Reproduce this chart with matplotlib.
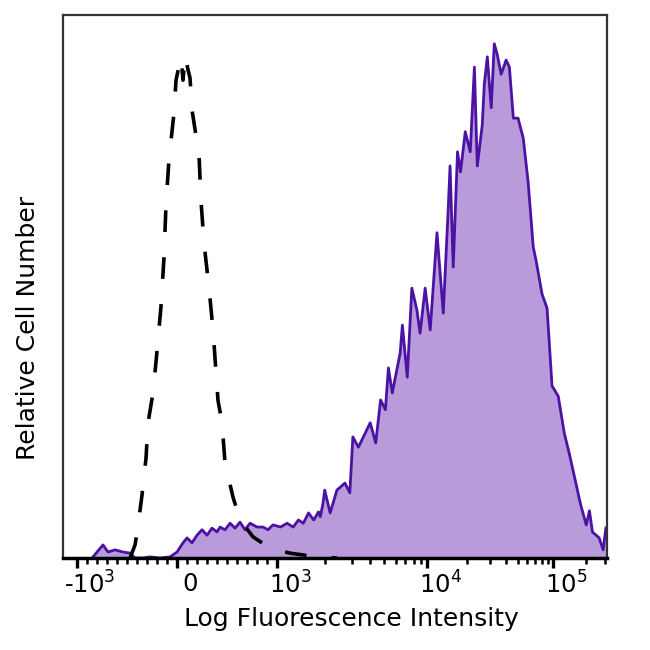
import numpy as np
import matplotlib
matplotlib.use('Agg')
import matplotlib.pyplot as plt
from matplotlib.transforms import ScaledTranslation

# stained sample (filled purple histogram)
stained_x = [-840, -800, -740, -690, -620, -540, -470, -420, -340, -270, -170, -70,
             0, 60, 100, 150, 200, 250, 300, 350, 400, 430, 480, 530, 580, 630, 680,
             730, 800, 860, 910, 960, 1050, 1155, 1260, 1360, 1460, 1575, 1700, 1825,
             1875, 1950, 2000, 2170, 2400, 2710, 2920, 3060, 3330, 4000, 4360, 4710,
             5080, 5330, 5670, 6440, 6670, 7220, 7780, 8450, 8910, 9690, 10550, 11820,
             13150, 14300, 14770, 15600, 16800, 17700, 19240, 21000, 22600, 23800,
             26000, 27000, 28500, 30600, 32350, 34100, 36700, 40250, 42800, 46100,
             50400, 55700, 61250, 67500, 71500, 80300, 88700, 98000, 111200, 125800,
             139700, 158600, 177400, 200000, 214300, 228600, 265200, 289600, 307900]
stained_y = [0.2, 1.1, 2.4, 1.1, 1.5, 1.1, 0.9, 0, 0, 0.2, 0, 0.2,
             1.1, 2.8, 3.7, 2.8, 4.2, 5.2, 4.2, 5.5, 4.8, 5.7, 5.2, 6.4, 5.5, 6.6, 5.2,
             6.4, 5.7, 5.7, 5.2, 6.1, 5.7, 6.4, 5.7, 7.0, 6.4, 8.3, 7.0, 8.5,
             7.6, 10.1, 12.5, 8.3, 12.5, 13.8, 12.0, 22.3, 20.4, 24.9, 21.2, 29.1,
             27.3, 35.0, 30.4, 37.8, 42.9, 33.3, 49.7, 45.7, 41.4, 49.7, 42.0, 59.9,
             45.1, 64.1, 72.2, 53.6, 74.8, 71.1, 78.5, 74.8, 90.4, 72.2,
             79.7, 87.3, 92.3, 82.9, 94.7, 92.8, 89.1, 91.7, 90.4, 81.0,
             81.0, 77.3, 69.1, 57.3, 54.7, 48.6, 46.0, 31.7, 29.8, 23.0,
             19.2, 14.2, 9.8, 6.1, 8.7, 4.8, 3.7, 1.5, 5.5]

# isotype control (dashed histogram)
control_x = [-470, -420, -400, -350, -310, -290, -240, -200, -160, -130, -110, -80,
             -30, -10, 40, 60, 80, 110, 130, 150, 220, 240, 270, 320, 360, 410, 450,
             480, 560, 630, 760, 930, 1200, 1785, 2400]
control_y = [0, 2.4, 4.6, 11.6, 18.4, 24.9, 30.4, 38.1, 46.4, 55.4, 65.2, 73.5,
             82.0, 88.0, 92.3, 88.0, 92.6, 89.9, 88.4, 82.5, 74.2, 65.7, 58.0, 49.7,
             42.0, 29.0, 24.9, 17.5, 11.2, 7.0, 3.9, 1.8, 0.9, 0.2, 0]

major_ticks = [-1e3, 0, 1e3, 1e4, 1e5]
major_labels = ['-10$^3$', '0', '10$^3$', '10$^4$', '10$^5$']

LIN = 1000.0


def biex_forward(x):
    '''linear around zero, compressed log beyond +-1000'''
    x = np.asarray(x, dtype=float)
    ax_ = np.abs(x)
    t = np.log10(np.maximum(ax_, LIN) / LIN)
    return np.where(ax_ <= LIN, x / 10.0, np.sign(x) * (100 + 162 * t - 12 * t ** 2))


def biex_inverse(u):
    u = np.asarray(u, dtype=float)
    au = np.abs(u)
    s = np.maximum(au - 100, 0)
    t = (162 - np.sqrt(np.maximum(162 ** 2 - 48 * s, 0))) / 24
    return np.where(au <= 100, u * 10.0, np.sign(u) * LIN * 10 ** t)


plt.rcParams['font.family'] = ['DejaVu Sans']
plt.rcParams['mathtext.default'] = 'regular'

fig = plt.figure(figsize=(6.5, 6.5), dpi=100)
ax = fig.add_axes([63 / 650, 1 - 558 / 650, 544 / 650, 543 / 650])
ax.set_xscale('function', functions=(biex_forward, biex_inverse))

ax.fill_between(stained_x, stained_y, 0, color='#b99bdb', lw=0, zorder=1)
ax.plot(stained_x, stained_y, color='#4c12a3', lw=2.0, zorder=2)
ax.plot(control_x, control_y, color='black', lw=2.6, dashes=(6, 7), zorder=3)

ax.set_xlim(-1222, 316000)
ax.set_ylim(0, 100)

minor = [v for v in range(-900, 1000, 100) if v != 0]
minor += [m * 10 ** e for e in (3, 4) for m in range(2, 10)] + [2e5, 3e5]
ax.set_xticks(major_ticks)
ax.set_xticklabels(major_labels, fontsize=17.5)
ax.set_xticks(minor, minor=True)
ax.tick_params(axis='x', which='major', length=7, width=2.4, direction='out', pad=3)
ax.tick_params(axis='x', which='minor', length=4, width=1.8, direction='out')
ax.tick_params(axis='y', left=False, labelleft=False)
for lab in ax.get_xticklabels():
    lab.set_transform(lab.get_transform() + ScaledTranslation(0.13, 0, fig.dpi_scale_trans))

for side in ['top', 'left', 'right']:
    ax.spines[side].set_color('#333333')
    ax.spines[side].set_linewidth(1.6)
ax.spines['bottom'].set_linewidth(2.5)

ax.set_xlabel('Log Fluorescence Intensity', fontsize=18)
ax.set_ylabel('Relative Cell Number', fontsize=18)
ax.xaxis.set_label_coords(0.53, -0.09)
ax.yaxis.set_label_coords(-0.064, 0.424)
ax.yaxis.label.set_va('center')

fig.savefig('out.png', dpi=100)
